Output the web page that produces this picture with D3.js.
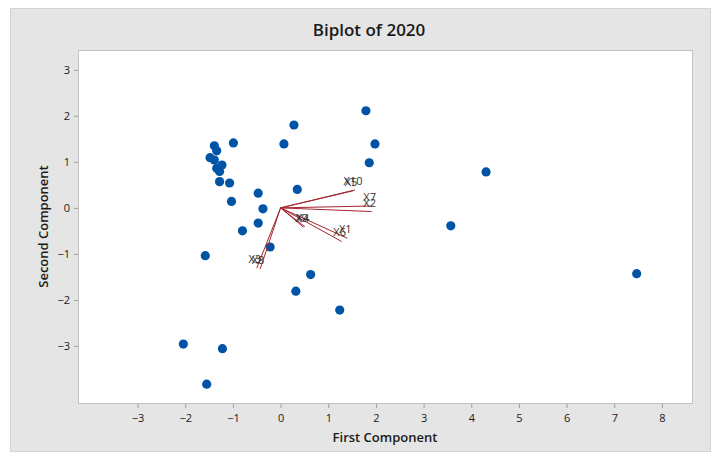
<!DOCTYPE html>
<html>
<head>
<meta charset="utf-8">
<script src="https://cdn.jsdelivr.net/npm/d3@7"></script>
<style>
  html, body { margin: 0; padding: 0; background: #ffffff; }
  svg { display: block; font-family: "Open Sans", "Noto Sans", sans-serif; }
</style>
</head>
<body>
<svg id="chart" width="715" height="456"></svg>
<script>
// ---- data ----
const scoresX = [-1.39, -1.34, -1.48, -1.39, -1.23, -1.34, -1.28, -1.28, -1.07, -0.99,
                  0.28, 1.79, 1.98, 0.07, 1.86, 0.35, -0.47, -1.03, -0.37, -0.47,
                 -0.80, -0.22, -1.58, 0.63, 0.32, 1.24, -2.04, -1.22, -1.55, 4.31,
                  3.57, 7.47];
const scoresY = [1.35, 1.24, 1.09, 1.04, 0.93, 0.86, 0.79, 0.57, 0.54, 1.41,
                 1.80, 2.11, 1.39, 1.39, 0.98, 0.40, 0.32, 0.14, -0.02, -0.33,
                -0.50, -0.85, -1.04, -1.45, -1.81, -2.22, -2.96, -3.06, -3.83, 0.78,
                -0.39, -1.43];
const varNames = ["X1", "X2", "X3", "X4", "X5", "X6", "X7", "X8", "X9", "X10"];
const loadX    = [1.40, 1.91, -0.50, 0.51, 1.52, 1.28, 1.91, -0.43, 0.48, 1.56];
const loadY    = [-0.66, -0.08, -1.31, -0.41, 0.37, -0.73, 0.04, -1.33, -0.42, 0.39];
const xTicks = [-3, -2, -1, 0, 1, 2, 3, 4, 5, 6, 7, 8];
const yTicks = [-3, -2, -1, 0, 1, 2, 3];
const xDomain = [-4.25, 8.63];
const yDomain = [-4.24, 3.43];

// ---- layout ----
const svg = d3.select("#chart");
const plot = { left: 78, right: 692, top: 50, bottom: 403 };

svg.append("rect").attr("x", 10.5).attr("y", 8.5).attr("width", 700).attr("height", 443)
  .attr("fill", "#e5e5e5").attr("stroke", "#d4d4d4");

const x = d3.scaleLinear().domain(xDomain).range([plot.left, plot.right]);
const y = d3.scaleLinear().domain(yDomain).range([plot.bottom, plot.top]);

svg.append("rect").attr("x", plot.left + 0.5).attr("y", plot.top + 0.5)
  .attr("width", plot.right - plot.left).attr("height", plot.bottom - plot.top)
  .attr("fill", "#ffffff").attr("stroke", "#c3c3c3");

// axes
const xAxis = svg.append("g").attr("transform", `translate(0,${plot.bottom + 1})`)
  .call(d3.axisBottom(x).tickValues(xTicks).tickFormat(d3.format("d")).tickSize(4).tickPadding(4));
const yAxis = svg.append("g").attr("transform", `translate(${plot.left},0)`)
  .call(d3.axisLeft(y).tickValues(yTicks).tickFormat(d3.format("d")).tickSize(4).tickPadding(4));
[xAxis, yAxis].forEach(g => {
  g.select(".domain").remove();
  g.selectAll(".tick line").attr("stroke", "#a0a0a0");
  g.selectAll(".tick text").attr("fill", "#1a1a1a").style("font-size", "11px")
    .style("font-family", "'Open Sans', 'Noto Sans', sans-serif");
});
xAxis.selectAll(".tick text").attr("dy", "0.95em");

// titles
svg.append("text").attr("x", 369).attr("y", 36).attr("text-anchor", "middle")
  .style("font-size", "17px").style("font-weight", "600").attr("fill", "#1a1a1a")
  .text("Biplot of 2020");
svg.append("text").attr("x", (plot.left + plot.right) / 2).attr("y", 442).attr("text-anchor", "middle")
  .style("font-size", "13px").style("font-weight", "600").attr("fill", "#1a1a1a")
  .text("First Component");
svg.append("text").attr("transform", `translate(48,${(plot.top + plot.bottom) / 2}) rotate(-90)`)
  .attr("text-anchor", "middle")
  .style("font-size", "13px").style("font-weight", "600").attr("fill", "#1a1a1a")
  .text("Second Component");

// points
const pts = scoresX.map((v, i) => ({ x: v, y: scoresY[i] }));
svg.append("g").selectAll("circle").data(pts).join("circle")
  .attr("cx", d => x(d.x)).attr("cy", d => y(d.y)).attr("r", 4.6)
  .attr("fill", "#0054a6");

// loading vectors
const vecs = varNames.map((n, i) => ({ name: n, x: loadX[i], y: loadY[i] }));
const vg = svg.append("g");
vg.selectAll("line").data(vecs).join("line")
  .attr("x1", x(0)).attr("y1", y(0))
  .attr("x2", d => x(d.x)).attr("y2", d => y(d.y))
  .attr("stroke", "#a3262f").attr("stroke-width", 1);
vg.selectAll("text").data(vecs).join("text")
  .attr("x", d => x(d.x) - 2).attr("y", d => y(d.y) - 5)
  .attr("text-anchor", "middle")
  .style("font-size", "11px").attr("fill", "#333333")
  .text(d => d.name);
</script>
</body>
</html>
